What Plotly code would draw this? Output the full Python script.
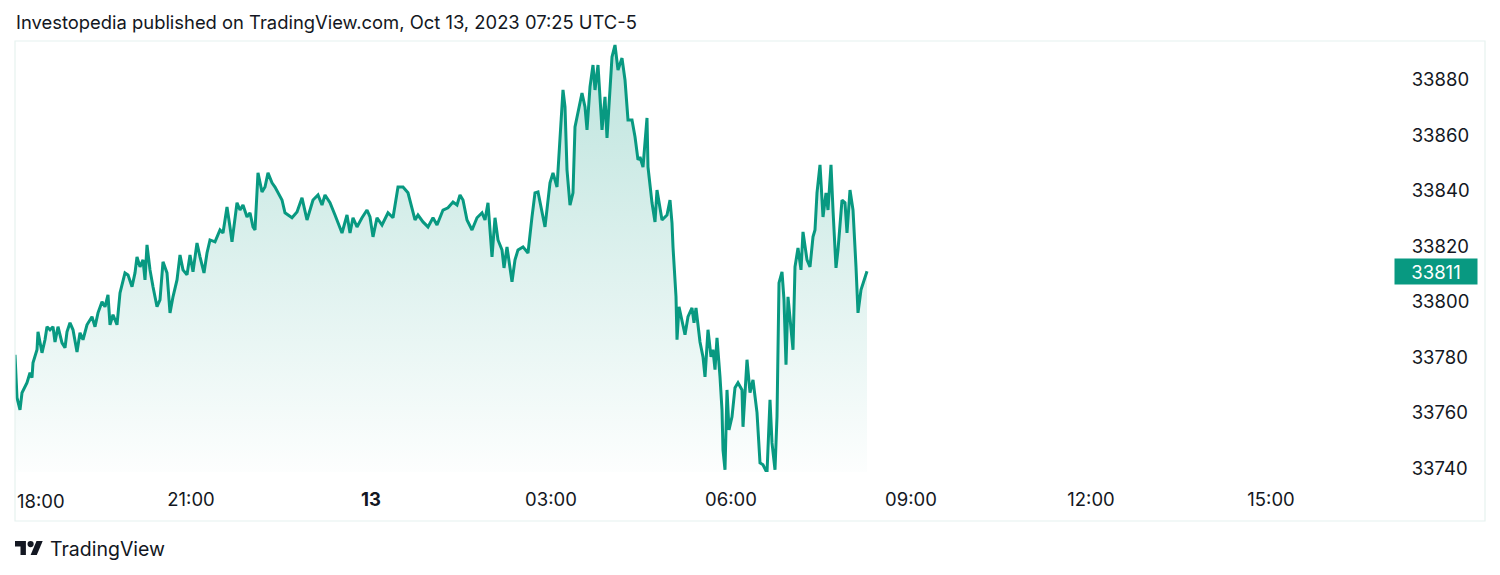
import pandas as pd
import plotly.graph_objects as go

# minutes after session open (2023-10-12 18:00)
minutes = [4, 6, 9, 11, 16, 19, 21, 22, 26, 27, 31, 34, 36, 39, 42, 44, 47, 51, 54, 56,
           59, 62, 66, 69, 72, 76, 81, 84, 87, 91, 94, 97, 99, 102, 106, 109, 114, 117, 121, 124,
           126, 129, 132, 134, 136, 139, 142, 146, 149, 152, 156, 159, 162, 166, 169, 172, 176, 179, 182, 186,
           189, 193, 196, 199, 204, 209, 212, 216, 219, 221, 226, 229, 232, 236, 239, 242, 244, 247, 251, 254,
           257, 261, 264, 267, 271, 274, 277, 281, 286, 291, 296, 302, 307, 311, 314, 319, 324, 331, 336, 339,
           342, 346, 351, 356, 359, 362, 366, 371, 377, 382, 387, 392, 397, 401, 404, 407, 412, 417, 422, 426,
           432, 437, 442, 446, 449, 452, 456, 461, 466, 471, 474, 477, 481, 484, 487, 491, 493, 496, 501, 504,
           507, 512, 517, 521, 524, 527, 531, 534, 539, 542, 546, 549, 552, 554, 556, 559, 562, 564, 567, 571,
           574, 576, 579, 582, 584, 587, 591, 594, 596, 599, 601, 604, 607, 611, 614, 617, 621, 624, 627, 629,
           632, 636, 637, 641, 644, 646, 648, 651, 656, 659, 661, 662, 665, 666, 668, 671, 674, 677, 681, 683,
           685, 689, 692, 694, 697, 700, 702, 704, 706, 709, 711, 712, 714, 716, 718, 721, 724, 727, 731, 732,
           736, 739, 742, 746, 749, 752, 756, 759, 761, 764, 766, 768, 771, 773, 775, 777, 780, 782, 784, 787,
           790, 792, 796, 799, 802, 804, 806, 809, 812, 815, 817, 820, 822, 825, 827, 831, 834, 836, 839, 842,
           845, 847, 850, 852, 856]

prices = [33780.9, 33765.4, 33761.0, 33767.2, 33770.8, 33774.4, 33772.6, 33778.0, 33782.7, 33789.2,
          33781.6, 33786.3, 33791.0, 33789.9, 33791.0, 33785.5, 33791.0, 33785.2, 33783.4, 33789.2,
          33792.4, 33789.9, 33781.9, 33788.8, 33786.3, 33791.7, 33794.6, 33791.0, 33796.0, 33800.0,
          33798.2, 33802.5, 33791.7, 33795.3, 33791.7, 33803.2, 33810.4, 33809.7, 33805.4, 33810.4,
          33816.2, 33812.6, 33815.1, 33807.9, 33820.5, 33811.5, 33805.4, 33798.2, 33800.7, 33814.4,
          33810.4, 33796.0, 33801.8, 33807.9, 33816.9, 33811.5, 33809.7, 33816.9, 33810.8, 33821.2,
          33816.2, 33810.4, 33817.6, 33822.3, 33821.6, 33825.9, 33824.8, 33834.2, 33827.0, 33821.6,
          33835.7, 33833.1, 33834.9, 33830.6, 33832.1, 33827.0, 33825.9, 33846.5, 33839.6, 33841.4,
          33846.5, 33842.9, 33841.4, 33839.6, 33836.7, 33832.1, 33831.3, 33830.3, 33832.4, 33837.5,
          33829.5, 33836.7, 33838.5, 33834.9, 33838.5, 33835.7, 33831.3, 33824.8, 33831.3, 33824.8,
          33830.3, 33827.0, 33830.3, 33833.1, 33830.6, 33823.4, 33830.3, 33827.7, 33832.1, 33830.3,
          33841.4, 33841.4, 33839.3, 33833.9, 33829.5, 33831.3, 33828.8, 33827.0, 33830.3, 33827.7,
          33833.1, 33833.9, 33836.0, 33834.9, 33838.5, 33836.7, 33829.5, 33825.9, 33830.3, 33832.1,
          33829.5, 33835.7, 33816.2, 33830.3, 33822.3, 33818.7, 33812.2, 33819.8, 33807.2, 33815.1,
          33818.7, 33819.8, 33817.6, 33830.6, 33839.3, 33839.6, 33832.1, 33827.0, 33842.9, 33846.5,
          33841.4, 33859.5, 33876.4, 33870.3, 33847.6, 33834.9, 33839.3, 33863.1, 33868.1, 33875.3,
          33870.3, 33862.0, 33877.5, 33885.4, 33876.4, 33885.4, 33862.0, 33873.9, 33859.1, 33877.5,
          33888.3, 33892.6, 33883.6, 33887.9, 33880.0, 33865.6, 33865.6, 33859.5, 33851.2, 33852.2,
          33848.6, 33866.3, 33848.6, 33835.7, 33828.8, 33840.3, 33835.7, 33829.5, 33831.3, 33836.7,
          33828.4, 33819.8, 33801.8, 33786.3, 33798.2, 33793.5, 33788.1, 33794.6, 33797.8, 33792.4,
          33797.8, 33785.5, 33780.1, 33772.9, 33789.9, 33780.1, 33782.7, 33775.5, 33787.0, 33772.9,
          33761.0, 33746.6, 33739.4, 33768.2, 33753.8, 33758.5, 33769.0, 33770.8, 33768.2, 33754.9,
          33779.1, 33767.2, 33771.8, 33760.0, 33741.9, 33741.2, 33738.3, 33764.6, 33749.1, 33739.4,
          33758.5, 33806.8, 33810.8, 33800.7, 33777.3, 33801.8, 33791.0, 33782.7, 33812.6, 33819.4,
          33811.5, 33825.2, 33815.1, 33812.6, 33823.4, 33825.9, 33839.3, 33849.4, 33830.6, 33839.3,
          33833.1, 33849.4, 33833.1, 33812.2, 33818.7, 33836.7, 33835.7, 33824.8, 33840.3, 33833.1,
          33812.6, 33796.0, 33804.3, 33806.8, 33811.0]

price_ticks = [33740, 33760, 33780, 33800, 33820, 33840, 33860, 33880]
price_tick_labels = [str(v) for v in price_ticks]
time_tick_labels = ["21:00", "<b>13</b>", "03:00", "06:00", "09:00", "12:00", "15:00"]
time_tick_minutes = [180, 360, 540, 720, 900, 1080, 1260]
last_price = 33811

session_open = pd.Timestamp("2023-10-12 18:00")
times = [session_open + pd.Timedelta(minutes=m) for m in minutes]
tick_times = [session_open + pd.Timedelta(minutes=m) for m in time_tick_minutes]

Y_LO, Y_HI = 33738.6, 33893.7
X_LO = session_open + pd.Timedelta(minutes=4)
X_HI = session_open + pd.Timedelta(minutes=1383)

TEAL = "#089981"
INK = "#131722"
FONT = "Inter"

fig = go.Figure()
fig.add_trace(go.Scatter(x=times, y=[Y_LO] * len(times), mode="lines",
                         line=dict(width=0), hoverinfo="skip", showlegend=False))
fig.add_trace(go.Scatter(
    x=times, y=prices, mode="lines", fill="tonexty",
    line=dict(color=TEAL, width=3),
    fillgradient=dict(type="vertical", start=Y_LO, stop=Y_HI,
                      colorscale=[[0, "rgba(8,153,129,0.01)"], [1, "rgba(8,153,129,0.27)"]]),
    showlegend=False))

W, H = 1500, 575
L, R, T, B = 15, 1394, 42, 472
pw, ph = R - L, B - T
def px(x):
    return (x - L) / pw
def py(y):
    return (B - y) / ph

fig.update_layout(
    width=W, height=H,
    margin=dict(l=L, r=W - R, t=T, b=H - B),
    paper_bgcolor="white", plot_bgcolor="white",
    font=dict(family=FONT, color=INK, size=18),
    xaxis=dict(type="date", range=[X_LO, X_HI], showgrid=False, zeroline=False,
               showline=False, tickvals=tick_times, ticktext=time_tick_labels,
               ticks="outside", ticklen=11, tickcolor="rgba(0,0,0,0)",
               tickfont=dict(size=18.5, family=FONT, color=INK)),
    yaxis=dict(range=[Y_LO, Y_HI], side="right", showgrid=False, zeroline=False,
               showline=False, tickvals=price_ticks, ticktext=price_tick_labels,
               ticks="outside", ticklen=13, tickcolor="rgba(0,0,0,0)",
               tickfont=dict(size=18.5, family=FONT, color=INK)),
    hovermode=False,
)

shapes = [
    dict(type="rect", xref="paper", yref="paper", x0=px(15), x1=px(1485), y0=py(521), y1=py(41),
         line=dict(color="#e6f2ef", width=1.2), fillcolor="rgba(0,0,0,0)", layer="above"),
    # TradingView logo
    dict(type="path", xref="paper", yref="paper",
         path=f"M {px(15)} {py(541)} L {px(25.9)} {py(541)} L {px(25.9)} {py(555)} L {px(20.5)} {py(555)} "
              f"L {px(20.5)} {py(546.5)} L {px(15)} {py(546.5)} Z",
         fillcolor=INK, line=dict(width=0)),
    dict(type="circle", xref="paper", yref="paper", x0=px(27.5), x1=px(33.7), y0=py(547.2), y1=py(541),
         fillcolor=INK, line=dict(width=0)),
    dict(type="path", xref="paper", yref="paper",
         path=f"M {px(30.6)} {py(555)} L {px(36.8)} {py(555)} L {px(42.7)} {py(541)} L {px(36.5)} {py(541)} Z",
         fillcolor=INK, line=dict(width=0)),
]
fig.update_layout(shapes=shapes)

annotations = [
    dict(text="Investopedia published on TradingView.com, Oct 13, 2023 07:25 UTC-5",
         xref="paper", yref="paper", x=px(14), y=py(22), xanchor="left", yanchor="middle",
         showarrow=False, font=dict(size=18.4, family=FONT, color=INK)),
    dict(text="18:00", xref="paper", yref="paper", x=px(15), y=py(501), xanchor="left",
         yanchor="middle", showarrow=False, font=dict(size=18.5, family=FONT, color=INK)),
    dict(text="TradingView", xref="paper", yref="paper", x=px(48), y=py(549), xanchor="left",
         yanchor="middle", showarrow=False, font=dict(size=19.5, family=FONT, color=INK)),
    dict(text=str(last_price), xref="paper", yref="y", x=px(1394), y=last_price, xanchor="left",
         yanchor="middle", showarrow=False, bgcolor=TEAL, width=74, height=17, borderpad=4,
         font=dict(size=18.5, family=FONT, color="white")),
]
fig.update_layout(annotations=annotations)

fig.write_html("out.html", config={"displayModeBar": False},
               post_script="document.body.style.margin='0';")
